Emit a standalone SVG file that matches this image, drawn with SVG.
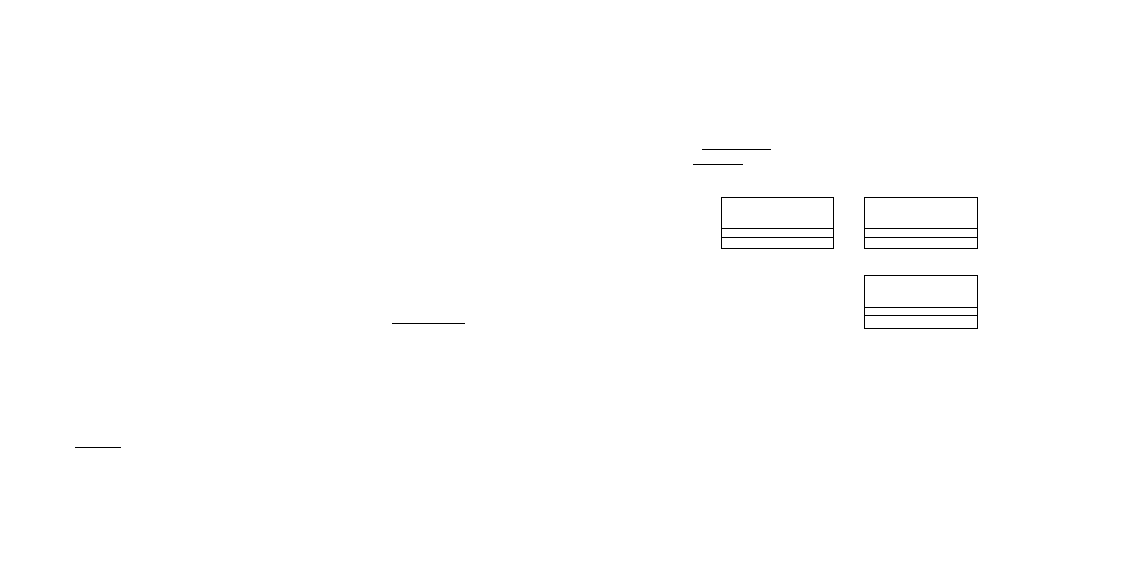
<svg xmlns="http://www.w3.org/2000/svg" width="1147" height="573" viewBox="0 0 1147 573">
<style>
.box{fill:#fff;stroke:#000;stroke-width:1}
.ln{stroke:#000;stroke-width:1;fill:none}
</style>
<rect width="1147" height="573" fill="#fff"/>
<g id="connectors">
<line class="ln" x1="702" y1="149.5" x2="771" y2="149.5"/>
<line class="ln" x1="693" y1="164.5" x2="743" y2="164.5"/>
<line class="ln" x1="392" y1="323.5" x2="465" y2="323.5"/>
<line class="ln" x1="75" y1="447.5" x2="121" y2="447.5"/>
</g>
<g id="node1">
<rect class="box" x="721.5" y="197.5" width="112" height="51"/>
<line class="ln" x1="721.5" y1="228.5" x2="833.5" y2="228.5"/>
<line class="ln" x1="721.5" y1="237.5" x2="833.5" y2="237.5"/>
</g>
<g id="node2">
<rect class="box" x="864.5" y="197.5" width="113" height="51"/>
<line class="ln" x1="864.5" y1="228.5" x2="977.5" y2="228.5"/>
<line class="ln" x1="864.5" y1="237.5" x2="977.5" y2="237.5"/>
</g>
<g id="node3">
<rect class="box" x="864.5" y="275.5" width="113" height="53"/>
<line class="ln" x1="864.5" y1="307.5" x2="977.5" y2="307.5"/>
<line class="ln" x1="864.5" y1="315.5" x2="977.5" y2="315.5"/>
</g>
</svg>
